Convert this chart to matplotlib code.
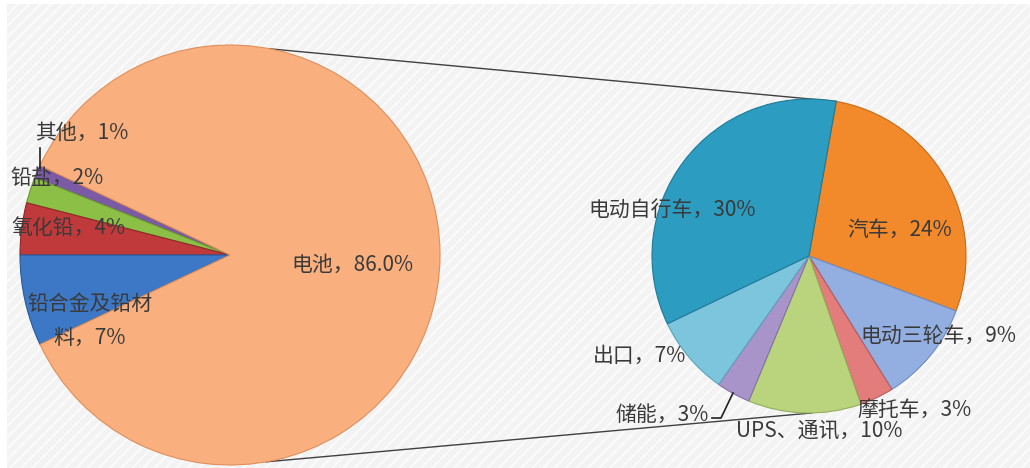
import numpy as np
import matplotlib
matplotlib.use("Agg")
import matplotlib.pyplot as plt
from matplotlib.patches import Rectangle

plt.rcParams['font.family'] = ['Noto Sans CJK SC', 'DejaVu Sans']

# ---- data ----
left_labels = ['其他', '铅盐', '氧化铅', '铅合金及铅材\n料', '电池']
left_values = [1, 2, 4, 7, 86.0]
left_texts = ['1%', '2%', '4%', '7%', '86.0%']

right_labels = ['汽车', '电动三轮车', '摩托车', 'UPS、通讯', '储能', '出口', '电动自行车']
right_values = [24, 9, 3, 10, 3, 7, 30]
right_texts = ['24%', '9%', '3%', '10%', '3%', '7%', '30%']

# ---- styles / positions ----
W, H = 1030, 468
left_colors = ['#7B5AA6', '#8CBF45', '#C0393B', '#3C78C6', '#F9B07E']
left_edges = ['#5E4385', '#6E9A30', '#8E2728', '#2A5A98', '#E08E5A']
right_colors = ['#F28A2C', '#93AEE0', '#E27D7B', '#B9D47C', '#A894C8', '#7DC5DC', '#2C9CC0']
right_edges = ['#C96A16', '#6F8CC0', '#B85A58', '#93AE5A', '#8471A8', '#5AA3BC', '#1E7A98']

LC, LR = (230, 213), 210
RC, RR = (809, 212), 157

left_label_pos = [(82, 133), (57, 178), (68, 228), (90, 321), (352, 265)]
right_label_pos = [(900, 230), (938, 336), (915, 410), (819, 431), (662, 415), (640, 356), (672, 210)]

fig = plt.figure(figsize=(W / 100, H / 100), dpi=100)
ax = fig.add_axes([0, 0, 1, 1])
ax.set_xlim(0, W)
ax.set_ylim(0, H)
ax.set_aspect('equal')
ax.axis('off')

# background
ax.add_patch(Rectangle((7, 0), W - 7, H - 4, facecolor='#F3F3F3', edgecolor='none', zorder=0))
plt.rcParams['hatch.linewidth'] = 1.5
ax.add_patch(Rectangle((7, 0), W - 7, H - 4, fill=False, hatch='///', edgecolor='#FBFBFB', lw=0, zorder=0.5))

start_left = 180 - sum(left_values[:3]) / sum(left_values) * 360
wl, _ = ax.pie(left_values, colors=left_colors, center=LC, radius=LR, startangle=start_left,
               counterclock=True, frame=True, wedgeprops=dict(linewidth=0.8))
for w, ec in zip(wl, left_edges):
    w.set_edgecolor(ec)
    w.set_zorder(2)

wr, _ = ax.pie(right_values, colors=right_colors, center=RC, radius=RR, startangle=80,
               counterclock=False, frame=True, wedgeprops=dict(linewidth=0.8))
for w, ec in zip(wr, right_edges):
    w.set_edgecolor(ec)
    w.set_zorder(2)

ax.set_xlim(0, W)
ax.set_ylim(0, H)
ax.axis('off')

# connector lines
def on_circle(c, r, ang):
    a = np.deg2rad(ang)
    return c[0] + r * np.cos(a), c[1] + r * np.sin(a)

p1 = on_circle(LC, LR, 79)
p2 = on_circle(RC, RR, 80)
p3 = on_circle(LC, LR, -80)
p4 = on_circle(RC, RR, -89)
ax.plot([p1[0], p2[0]], [p1[1], p2[1]], color='#404040', lw=1.0, zorder=1)
ax.plot([p3[0], p4[0]], [p3[1], p4[1]], color='#404040', lw=1.0, zorder=1)

tc = '#3A3A3A'
fs = 15
for lab, txt, (x, y) in zip(left_labels, left_texts, left_label_pos):
    if '\n' in lab:
        a, b = lab.split('\n')
        s = a + '\n' + b + '，' + txt
    else:
        s = lab + '，' + txt
    ax.text(x, H - y, s, ha='center', va='center', fontsize=fs, color=tc, zorder=5,
            linespacing=1.7)

for lab, txt, (x, y) in zip(right_labels, right_texts, right_label_pos):
    ax.text(x, H - y, lab + '，' + txt, ha='center', va='center', fontsize=fs, color=tc, zorder=5)

# leader lines
ax.plot([40, 40], [H - 148, H - 168], color='#202020', lw=1.2, zorder=4)
ax.plot([712, 721, 733], [H - 418, H - 418, H - 393], color='#202020', lw=1.2, zorder=4)

fig.savefig('out.png', dpi=100)
